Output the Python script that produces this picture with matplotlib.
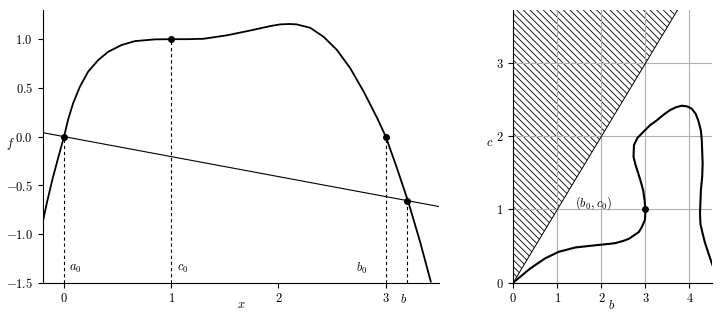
import numpy as np
import matplotlib
matplotlib.use('Agg')
import matplotlib.pyplot as plt

plt.rcParams['font.family'] = 'serif'
plt.rcParams['font.serif'] = ['cmr10', 'DejaVu Serif']
plt.rcParams['mathtext.fontset'] = 'cm'
plt.rcParams['axes.formatter.use_mathtext'] = True
plt.rcParams['font.size'] = 9
plt.rcParams['hatch.linewidth'] = 0.6

# left panel: f(x)
fx = [-0.21, -0.16, -0.106, -0.05, 0.0, 0.037, 0.084, 0.147, 0.224, 0.318,
      0.411, 0.536, 0.66, 0.846, 1.0, 1.15, 1.3, 1.52, 1.74, 1.925, 2.016,
      2.1, 2.17, 2.296, 2.42, 2.546, 2.67, 2.795, 2.92, 3.0, 3.1, 3.21, 3.32, 3.42]
fy = [-0.94, -0.68, -0.43, -0.20, 0.0, 0.17, 0.34, 0.51, 0.665, 0.785,
      0.87, 0.94, 0.98, 0.998, 1.0, 1.0, 1.004, 1.04, 1.09, 1.135, 1.152,
      1.156, 1.152, 1.117, 1.025, 0.888, 0.70, 0.46, 0.19, 0.0, -0.31, -0.67, -1.08, -1.49]
secant_x = [-0.2, 3.5]
secant_y = [0.04, -0.72]
pts_x = [0.0, 1.0, 3.0, 3.2]
pts_y = [0.0, 1.0, 0.0, -0.66]
pt_labels = ['$a_0$', '$c_0$', '$b_0$', '$b$']

# right panel: curve in (b, c)
cb = [0.0, 0.38, 0.72, 1.03, 1.41, 1.87, 2.2, 2.32, 2.5, 2.63, 2.75, 2.85, 2.92,
      2.99, 3.0, 2.98, 2.95, 2.90, 2.84, 2.78, 2.73, 2.74, 2.82, 2.95, 3.1, 3.26,
      3.42, 3.56, 3.7, 3.83, 3.95, 4.05, 4.14, 4.2, 4.26, 4.28, 4.3, 4.29, 4.26,
      4.24, 4.25, 4.3, 4.35, 4.41, 4.51, 4.6]
cc = [0.0, 0.19, 0.33, 0.42, 0.48, 0.51, 0.53, 0.54, 0.57, 0.60, 0.65, 0.69, 0.76,
      0.86, 1.0, 1.13, 1.26, 1.37, 1.49, 1.60, 1.72, 1.88, 1.98, 2.06, 2.15, 2.22,
      2.30, 2.36, 2.40, 2.42, 2.41, 2.38, 2.31, 2.22, 2.08, 1.95, 1.63, 1.45, 1.26,
      0.95, 0.80, 0.67, 0.55, 0.44, 0.26, 0.12]
tri_b = [0.0, 3.73, 0.0]
tri_c = [0.0, 3.73, 3.73]
diag = [0.0, 3.73]

fig = plt.figure(figsize=(7.22, 3.18), dpi=100)
ax1 = fig.add_axes([0.059, 0.1116, 0.5495, 0.857])
ax2 = fig.add_axes([0.711, 0.1116, 0.2756, 0.857])

ax1.plot(fx, fy, 'k', lw=1.3)
ax1.plot(secant_x, secant_y, 'k', lw=0.8)
ax1.vlines(pts_x, -1.5, pts_y, colors='k', linestyles=(0, (3, 2.5)), lw=0.8)
ax1.plot(pts_x, pts_y, 'ko', ms=4)
ax1.text(0.05, -1.36, pt_labels[0], va='center', ha='left')
ax1.text(1.05, -1.36, pt_labels[1], va='center', ha='left')
ax1.text(2.83, -1.36, pt_labels[2], va='center', ha='right')
ax1.text(3.17, -1.67, pt_labels[3], va='center', ha='center')
ax1.set_xlim(-0.2, 3.5)
ax1.set_ylim(-1.5, 1.3)
ax1.set_xticks([0, 1, 2, 3])
ax1.set_yticks([-1.5, -1.0, -0.5, 0.0, 0.5, 1.0])
ax1.set_xlabel('$x$', va='center')
ax1.xaxis.set_label_coords(0.5, -0.083)
ax1.set_ylabel('$f$', rotation=0, ha='center', va='center')
ax1.yaxis.set_label_coords(-0.082, 0.51)
ax1.spines['top'].set_visible(False)
ax1.spines['right'].set_visible(False)

ax2.fill(tri_b, tri_c, facecolor='none', edgecolor='k', hatch='\\\\\\\\\\', lw=0)
ax2.plot(diag, diag, 'k', lw=0.7)
ax2.plot(cb, cc, 'k', lw=1.5)
ax2.plot([3.0], [1.0], 'ko', ms=4)
ax2.text(1.82, 1.09, '$(b_0, c_0)$', ha='center', va='center')
ax2.grid(True, color='#b0b0b0', lw=0.8)
ax2.set_axisbelow('line')
ax2.set_xlim(0, 4.52)
ax2.set_ylim(0, 3.73)
ax2.set_xticks([0, 1, 2, 3, 4])
ax2.set_yticks([0, 1, 2, 3])
ax2.set_xlabel('$b$', va='center')
ax2.xaxis.set_label_coords(0.494, -0.083)
ax2.set_ylabel('$c$', rotation=0, ha='center', va='center')
ax2.yaxis.set_label_coords(-0.117, 0.513)
ax2.spines['top'].set_visible(False)
ax2.spines['right'].set_visible(False)

fig.savefig('out.png', dpi=100)
